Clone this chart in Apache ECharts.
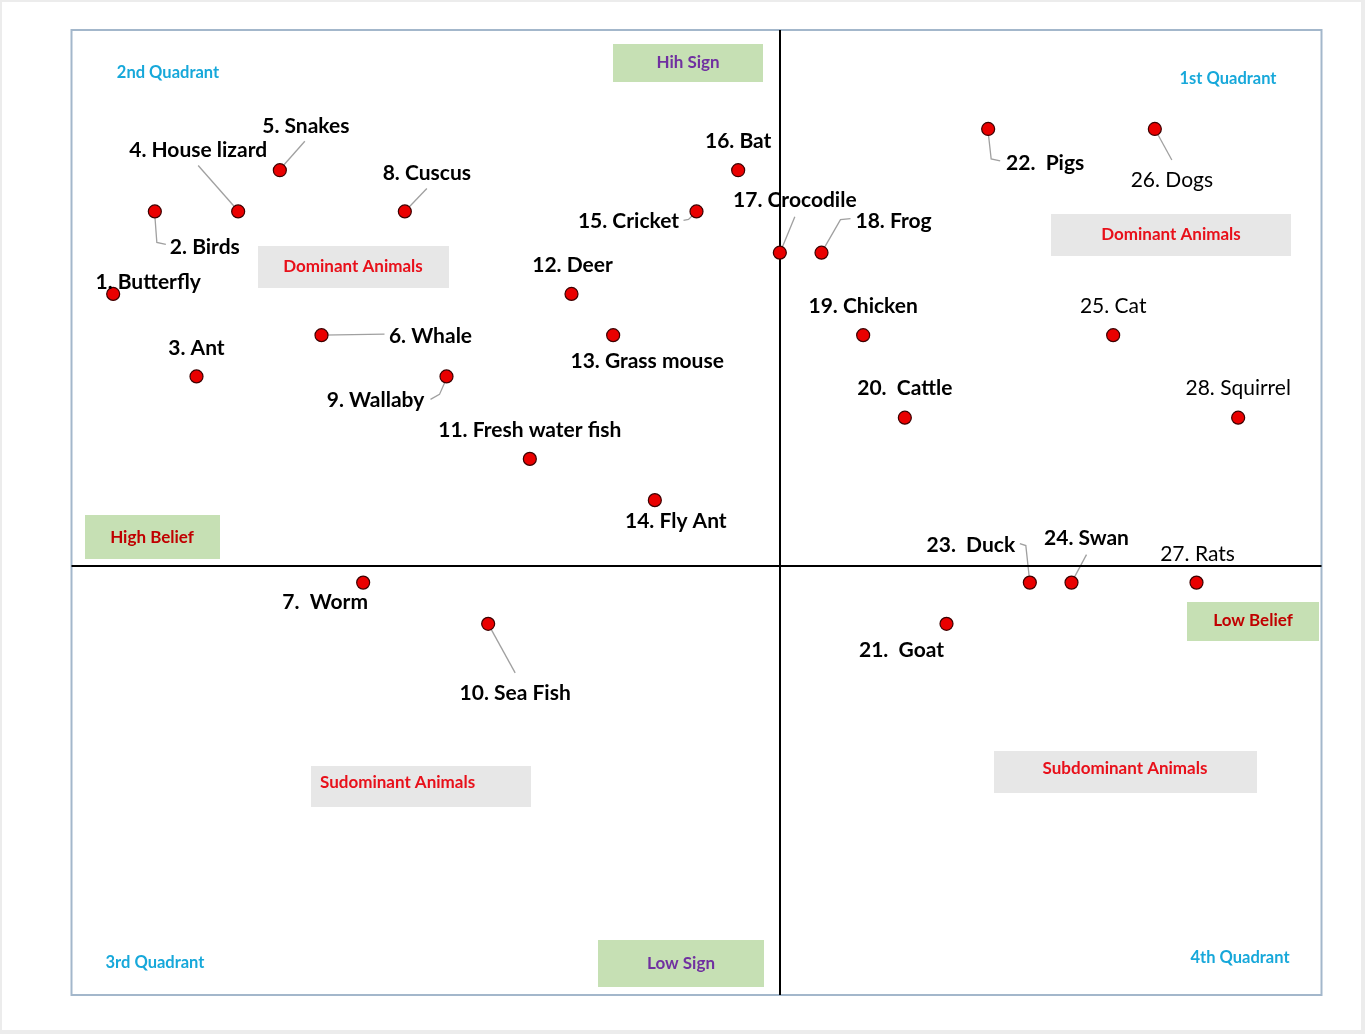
<!DOCTYPE html>
<html>
<head>
<meta charset="utf-8">
<title>Animal quadrants</title>
<script src="https://cdn.jsdelivr.net/npm/echarts@6/dist/echarts.min.js"></script>
<style>
  html, body { margin: 0; padding: 0; background: #fff; }
  #chart { width: 1365px; height: 1034px; }
</style>
</head>
<body>
<div id="chart"></div>
<script>
// animals, with the sign score (x) and belief score (y)
var animals = ['1. Butterfly', '2. Birds', '3. Ant', '4. House lizard', '5. Snakes', '6. Whale',
  '7.  Worm', '8. Cuscus', '9. Wallaby', '10. Sea Fish', '11. Fresh water fish', '12. Deer',
  '13. Grass mouse', '14. Fly Ant', '15. Cricket', '16. Bat', '17. Crocodile', '18. Frog',
  '19. Chicken', '20.  Cattle', '21.  Goat', '22.  Pigs', '23.  Duck', '24. Swan',
  '25. Cat', '26. Dogs', '27. Rats', '28. Squirrel'];
var signScore = [-16, -15, -14, -13, -12, -11, -10, -9, -8, -7, -6, -5, -4, -3,
  -2, -1, 0, 1, 2, 3, 4, 5, 6, 7, 8, 9, 10, 11];
var beliefScore = [7, 9, 5, 9, 10, 6, 0, 9, 5, -1, 3, 7, 6, 2,
  9, 10, 8, 8, 6, 4, -1, 11, 0, 0, 6, 11, 0, 4];

// where the two dividing lines cross the axes
var signSplit = 0;
var beliefSplit = 0.4;

// label placement (pixels from the point), not data
var labelOffsets = [[35, -12], [50, 36], [0, -28], [-40, -61], [26, -44], [109, 1],
  [-38, 20], [22, -38], [-71, 24], [27, 69], [0, -29], [1, -29],
  [34, 26], [21, 21], [-68, 10], [0, -29], [15, -52], [72, -31],
  [0, -29], [0, -29], [-45, 26], [57, 34], [-59, -37], [15, -44],
  [0, -29], [17, 51], [1, -28], [0, -29]];
var thinLabels = [24, 25, 26, 27];
var leaders = {
  1: [[0, 4], [2, 31], [11, 33]],
  3: [[-3, -4], [-40, -46]],
  4: [[2, -3], [25, -29]],
  5: [[0, 0], [63, -1]],
  7: [[0, 0], [22, -23]],
  8: [[0, 2], [-7, 18], [-16, 23]],
  9: [[0, 0], [27, 49]],
  14: [[0, 0], [-8, 8], [-13, 9]],
  16: [[1, -2], [15, -36]],
  17: [[0, 0], [19, -33], [29, -34]],
  21: [[0, 3], [3, 30], [12, 32]],
  22: [[0, 0], [-4, -37], [-10, -39]],
  23: [[0, 0], [15, -28]],
  25: [[0, 0], [17, 31]]
};

var green = '#c6e0b4', grey = '#e7e7e7';
var purple = '#7030a0', darkRed = '#c00000', red = '#e8101a', cyan = '#17a8da';
var boxes = [
  { x: 613, y: 44, w: 150, h: 38, fill: green, text: 'Hih Sign', color: purple, tx: 688, ty: 63 },
  { x: 598, y: 940, w: 166, h: 47, fill: green, text: 'Low Sign', color: purple, tx: 681, ty: 964 },
  { x: 85, y: 515, w: 135, h: 44, fill: green, text: 'High Belief', color: darkRed, tx: 152, ty: 538 },
  { x: 1187, y: 602, w: 132, h: 39, fill: green, text: 'Low Belief', color: darkRed, tx: 1253, ty: 621 },
  { x: 258, y: 246, w: 191, h: 42, fill: grey, text: 'Dominant Animals', color: red, tx: 353, ty: 267 },
  { x: 1051, y: 214, w: 240, h: 42, fill: grey, text: 'Dominant Animals', color: red, tx: 1171, ty: 235 },
  { x: 311, y: 766, w: 220, h: 41, fill: grey, text: 'Sudominant Animals', color: red, tx: 320, ty: 783, left: true },
  { x: 994, y: 751, w: 263, h: 42, fill: grey, text: 'Subdominant Animals', color: red, tx: 1125, ty: 769 }
];
var quadrantPos = [[168, 73], [1228, 79], [155, 963], [1240, 958]];
var quadrantNames = ['2nd Quadrant', '1st Quadrant', '3rd Quadrant', '4th Quadrant'];

var font = 'Lato, "Open Sans", sans-serif';
var chart = echarts.init(document.getElementById('chart'));

var points = [];
for (var i = 0; i < animals.length; i++) {
  points.push({
    name: animals[i],
    value: [signScore[i], beliefScore[i]],
    label: {
      offset: labelOffsets[i],
      fontWeight: thinLabels.indexOf(i) >= 0 ? 'normal' : 'bold'
    }
  });
}

var option = {
  backgroundColor: '#ececec',
  animation: false,
  grid: {
    left: 71.5, top: 30, width: 1250, height: 965,
    show: true, backgroundColor: 'transparent',
    borderColor: '#a3b7cb', borderWidth: 2
  },
  xAxis: {
    type: 'value', min: -17, max: 13,
    axisLine: { show: false }, axisTick: { show: false },
    axisLabel: { show: false }, splitLine: { show: false }
  },
  yAxis: {
    type: 'value', min: -10, max: 13.4,
    axisLine: { show: false }, axisTick: { show: false },
    axisLabel: { show: false }, splitLine: { show: false }
  },
  series: [{
    type: 'scatter',
    data: points,
    symbolSize: 13,
    z: 5,
    itemStyle: { color: '#ea0000', borderColor: '#3b0000', borderWidth: 1.2, opacity: 1 },
    label: {
      show: true,
      position: 'inside',
      formatter: '{b}',
      color: '#000',
      fontFamily: font,
      fontSize: 21
    },
    emphasis: { disabled: true },
    markLine: {
      silent: true,
      symbol: 'none',
      label: { show: false },
      lineStyle: { color: '#000', width: 2, type: 'solid' },
      data: [{ xAxis: signSplit }, { yAxis: beliefSplit }]
    }
  }]
};
chart.setOption(option);

var graphics = [{
  type: 'rect', z: -10, silent: true,
  shape: { x: 2, y: 2, width: 1359, height: 1028 },
  style: { fill: '#fff' }
}];

boxes.forEach(function (b) {
  graphics.push({
    type: 'rect', z: 1, silent: true,
    shape: { x: b.x, y: b.y, width: b.w, height: b.h },
    style: { fill: b.fill }
  });
  graphics.push({
    type: 'text', z: 2, silent: true,
    x: b.tx, y: b.ty,
    style: {
      text: b.text, fill: b.color, font: 'bold 17px ' + font,
      textAlign: b.left ? 'left' : 'center', textVerticalAlign: 'middle'
    }
  });
});

quadrantNames.forEach(function (q, k) {
  graphics.push({
    type: 'text', z: 2, silent: true,
    x: quadrantPos[k][0], y: quadrantPos[k][1],
    style: {
      text: q, fill: cyan, font: 'bold 16.5px ' + font,
      textAlign: 'center', textVerticalAlign: 'middle'
    }
  });
});

// leader lines from points to their labels
Object.keys(leaders).forEach(function (key) {
  var idx = +key;
  var p = chart.convertToPixel('grid', [signScore[idx], beliefScore[idx]]);
  var pts = leaders[key].map(function (o) { return [p[0] + o[0], p[1] + o[1]]; });
  graphics.push({
    type: 'polyline', z: 3, silent: true,
    shape: { points: pts },
    style: { stroke: '#a0a0a0', lineWidth: 1.3, fill: null }
  });
});

chart.setOption({ graphic: graphics });

window.onresize = function () {
  chart.resize();
};
</script>
</body>
</html>
